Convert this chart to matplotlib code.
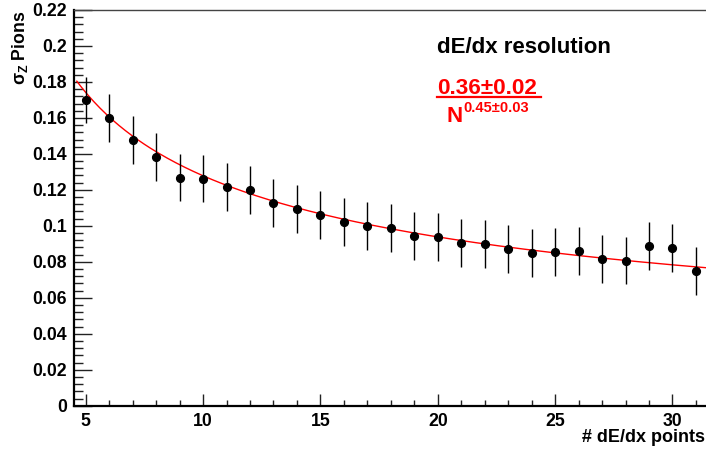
import numpy as np
import matplotlib
matplotlib.use("Agg")
import matplotlib.pyplot as plt
from matplotlib.lines import Line2D
from matplotlib.ticker import MultipleLocator, FuncFormatter

plt.rcParams['font.family'] = ['Liberation Sans', 'DejaVu Sans']
plt.rcParams['font.weight'] = 'bold'
plt.rcParams['mathtext.fontset'] = 'custom'
plt.rcParams['mathtext.rm'] = 'Liberation Sans'
plt.rcParams['mathtext.it'] = 'Liberation Sans'
plt.rcParams['mathtext.bf'] = 'Liberation Sans:bold'

# ---- data ----
n_points = [5, 6, 7, 8, 9, 10, 11, 12, 13, 14, 15, 16, 17, 18,
            19, 20, 21, 22, 23, 24, 25, 26, 27, 28, 29, 30, 31]
sigma_z = [0.170, 0.160, 0.1476, 0.1383, 0.1268, 0.1263, 0.1215, 0.1198,
           0.1126, 0.1094, 0.1062, 0.1021, 0.1001, 0.0987, 0.0942, 0.0937,
           0.0903, 0.0898, 0.0870, 0.0848, 0.0853, 0.0860, 0.0816, 0.0807,
           0.0887, 0.0879, 0.0751]
sigma_err = [0.0130, 0.0133, 0.0132, 0.0132, 0.0131, 0.0132, 0.0133, 0.0133,
             0.0133, 0.0133, 0.0133, 0.0133, 0.0133, 0.0133, 0.0133, 0.0133,
             0.0133, 0.0133, 0.0133, 0.0133, 0.0133, 0.0133, 0.0133, 0.0133,
             0.0133, 0.0133, 0.0133]
fit_a = 0.357
fit_b = 0.446
title_text = "dE/dx resolution"
num_text = "0.36\u00b10.02"
den_text = "N"
exp_text = "0.45\u00b10.03"
xlabel = "# dE/dx points"
ylabel = r"$\sigma_{\mathbf{Z}}$ Pions"

W, H = 706, 450
fig = plt.figure(figsize=(W / 100, H / 100), dpi=100)

def fx(px):
    return px / W

def fy(py):
    return 1 - py / H

left, right, top, bottom = 74, 707.7, 10, 405.7
ax = fig.add_axes([fx(left), fy(bottom), (right - left) / W, (bottom - top) / H])

xf = np.linspace(4.62, 31.5, 300)
ax.plot(xf, fit_a / xf ** fit_b, color='#ff0000', lw=1.0, zorder=2)
ax.errorbar(n_points, sigma_z, yerr=sigma_err, fmt='o', color='black',
            ms=5.6, elinewidth=1.0, capsize=0, zorder=3)

ax.set_xlim(4.5, 31.5)
ax.set_ylim(0, 0.22)
ax.xaxis.set_major_locator(MultipleLocator(5))
ax.xaxis.set_minor_locator(MultipleLocator(1))
ax.yaxis.set_major_locator(MultipleLocator(0.02))
ax.yaxis.set_minor_locator(MultipleLocator(0.004))
ax.yaxis.set_major_formatter(FuncFormatter(lambda v, p: "%g" % round(v, 3)))
ax.tick_params(axis='both', which='both', direction='in', top=False, right=False,
               labelsize=12.7, width=1.0, color='#222222')
ax.tick_params(axis='y', which='major', length=13, pad=5)
ax.tick_params(axis='y', which='minor', length=6.5)
ax.tick_params(axis='x', which='major', length=9, pad=5)
ax.tick_params(axis='x', which='minor', length=4.5)
for lab in ax.get_xticklabels() + ax.get_yticklabels():
    lab.set_fontweight('bold')
for s in ['left', 'bottom']:
    ax.spines[s].set_linewidth(1.6)
for s in ['top', 'right']:
    ax.spines[s].set_linewidth(1.0)
    ax.spines[s].set_color('#444444')

fig.text(fx(705), fy(438), xlabel, ha='right', va='center', fontsize=13, fontweight='bold')
fig.text(fx(20), fy(11), ylabel, ha='center', va='top', rotation=90,
         fontsize=12.7, fontweight='bold')

fig.text(fx(437), fy(53), title_text, ha='left', va='baseline', fontsize=16, fontweight='bold')
fig.text(fx(437), fy(94.5), num_text, ha='left', va='baseline', fontsize=16.2,
         fontweight='bold', color='#ff0000')
fig.add_artist(Line2D([fx(437), fx(541)], [fy(97), fy(97)], color='#ff0000', lw=1.6))
fig.text(fx(446), fy(122.5), den_text, ha='left', va='baseline', fontsize=16,
         fontweight='bold', color='#ff0000')
fig.text(fx(463), fy(112), exp_text, ha='left', va='baseline', fontsize=10.5,
         fontweight='bold', color='#ff0000')

fig.savefig("out.png", dpi=100)
